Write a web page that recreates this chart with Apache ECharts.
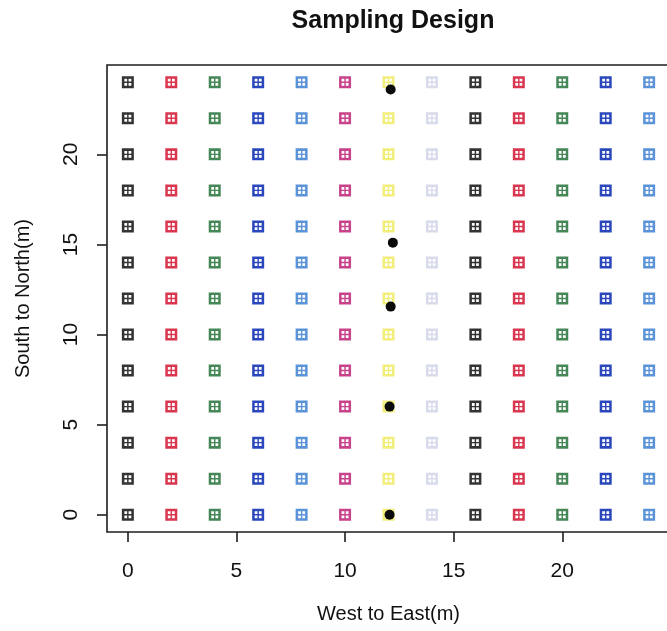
<!DOCTYPE html>
<html>
<head>
<meta charset="utf-8">
<title>Sampling Design</title>
<script src="https://cdn.jsdelivr.net/npm/echarts@6/dist/echarts.min.js"></script>
<style>
  html, body { margin: 0; padding: 0; background: #fff; }
  #chart { width: 667px; height: 631px; }
</style>
</head>
<body>
<div id="chart"></div>
<script>
// Grid of sampling plots (metres along each direction)
const eastings = [0, 2, 4, 6, 8, 10, 12, 14, 16, 18, 20, 22, 24];
const northings = [0, 2, 4, 6, 8, 10, 12, 14, 16, 18, 20, 22, 24];

// Extra sampling points along the central transect
const pointEast = [12.1, 12.2, 12.1, 12.05, 12.05];
const pointNorth = [23.6, 15.1, 11.55, 6.0, 0];

// Tick labels on both axes
const xTicks = [0, 5, 10, 15, 20];
const yTicks = [0, 5, 10, 15, 20];

// Column colours follow the base R palette, repeating every eight columns
const palette = ['#333333', '#d8374f', '#468757', '#2a48bc', '#5b93d8', '#c8438b', '#f2ee7c', '#d7dbec'];

// Square with a cross inside (four window holes cut out of a filled square)
const boxPlus = 'path://M0,0H10V10H0Z M2.1,2.1V4.4H4.4V2.1Z M5.6,2.1V4.4H7.9V2.1Z M2.1,5.6V7.9H4.4V5.6Z M5.6,5.6V7.9H7.9V5.6Z';

const font = '"Liberation Sans", Arial, Helvetica, sans-serif';

const series = eastings.map((e, i) => ({
  type: 'scatter',
  symbol: boxPlus,
  symbolSize: 12,
  itemStyle: { color: palette[i % palette.length], opacity: 1 },
  data: northings.map(n => [e, n]),
  z: 2
}));

series.push({
  type: 'scatter',
  symbol: 'circle',
  symbolSize: 10,
  itemStyle: { color: '#0a0a0a', opacity: 1 },
  data: pointEast.map((e, i) => [e, pointNorth[i]]),
  z: 3
});

const chart = echarts.init(document.getElementById('chart'), null, { renderer: 'canvas' });

chart.setOption({
  animation: false,
  backgroundColor: '#fff',
  title: {
    text: 'Sampling Design',
    left: 388,
    top: 4,
    textAlign: 'center',
    textStyle: { fontFamily: font, fontWeight: 'bold', fontSize: 25, color: '#111' }
  },
  grid: {
    left: 107,
    top: 65,
    width: 563,
    height: 467,
    outerBoundsMode: 'none',
    containLabel: false,
    show: true,
    borderColor: '#1e1e1e',
    borderWidth: 1.6,
    backgroundColor: 'transparent'
  },
  xAxis: {
    type: 'value',
    min: -0.96,
    max: 24.96,
    name: 'West to East(m)',
    nameLocation: 'middle',
    nameGap: 72,
    nameTextStyle: { fontFamily: font, fontSize: 20, color: '#111' },
    axisLine: { show: false, onZero: false },
    splitLine: { show: false },
    axisTick: { show: true, inside: false, length: 10, customValues: xTicks, lineStyle: { color: '#1e1e1e', width: 1.6 } },
    axisLabel: { customValues: xTicks, margin: 29, fontFamily: font, fontSize: 21, color: '#111' }
  },
  yAxis: {
    type: 'value',
    min: -0.96,
    max: 24.96,
    name: 'South to North(m)',
    nameLocation: 'middle',
    nameGap: 74,
    nameTextStyle: { fontFamily: font, fontSize: 20, color: '#111' },
    axisLine: { show: false, onZero: false },
    splitLine: { show: false },
    axisTick: { show: true, inside: false, length: 10, customValues: yTicks, lineStyle: { color: '#1e1e1e', width: 1.6 } },
    axisLabel: { customValues: yTicks, rotate: 90, margin: 25, fontFamily: font, fontSize: 21, color: '#111' }
  },
  series: series
});
</script>
</body>
</html>
